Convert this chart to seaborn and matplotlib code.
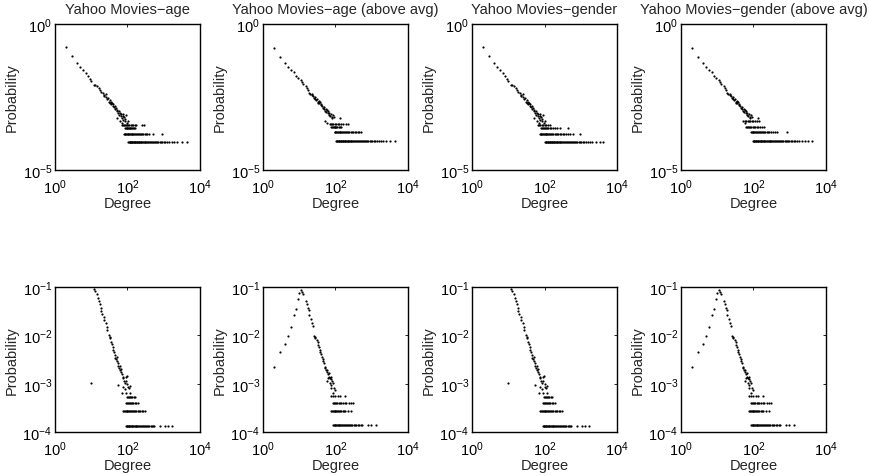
import matplotlib
matplotlib.use("Agg")
import matplotlib.pyplot as plt
import pandas as pd
import seaborn as sns

sns.set_theme(style="white")
plt.rcParams["font.family"] = ["Liberation Sans", "DejaVu Sans"]
plt.rcParams.update({
    "mathtext.fontset": "custom",
    "mathtext.rm": "Liberation Sans",
    "mathtext.it": "Liberation Sans:italic",
    "mathtext.bf": "Liberation Sans:bold",
    "mathtext.default": "regular",
    "font.size": 10.5,
    "axes.edgecolor": "black",
    "axes.linewidth": 1.0,
    "figure.facecolor": "white",
    "axes.facecolor": "white",
})

# ---------------- text ----------------
titles = ["Yahoo Movies\u2212age", "Yahoo Movies\u2212age (above avg)",
          "Yahoo Movies\u2212gender", "Yahoo Movies\u2212gender (above avg)"]
x_label = "Degree"
y_label = "Probability"
xticks = [1e0, 1e2, 1e4]
xtick_labels = [r"$10^{0}$", r"$10^{2}$", r"$10^{4}$"]
top_yticks = [1e-5, 1e0]
top_ytick_labels = [r"$10^{-5}$", r"$10^{0}$"]
bottom_yticks = [1e-4, 1e-3, 1e-2, 1e-1]
bottom_ytick_labels = [r"$10^{-4}$", r"$10^{-3}$", r"$10^{-2}$", r"$10^{-1}$"]

# ---------------- data: top row (age) ----------------
age_head_deg = [2, 3, 4, 5, 6, 7, 8, 9, 10, 12, 13, 14, 16, 17, 19, 21, 22, 23, 25,
                26, 28, 29, 30, 32, 33, 34, 36, 37, 39, 41, 42, 44, 46, 48, 50, 51, 52, 55, 57,
                60, 62, 63, 65, 68, 69, 70, 74, 76, 77, 80, 84, 87, 89, 95, 101]
age_head_prob = [0.159, 0.078, 0.046, 0.0346, 0.0273, 0.0204, 0.0161, 0.0131, 0.0109,
                 0.0084, 0.0079, 0.0075, 0.0064, 0.0053, 0.0047, 0.0042, 0.0038, 0.0034, 0.0032,
                 0.0039, 0.0026, 0.0029, 0.0022, 0.0020, 0.0025, 0.0022, 0.0018, 0.0020, 0.0016,
                 0.0018, 0.0014, 0.0015, 0.00123, 0.00133, 0.00102, 0.00060, 0.00113, 0.00087, 0.00102,
                 0.00079, 0.00092, 0.00049, 0.00071, 0.00081, 0.00042, 0.00060, 0.00069, 0.00083, 0.00053,
                 0.00064, 0.00048, 0.00054, 0.00074, 0.00042, 0.00046]
age_band_levels = [8.9e-5, 1.77e-4, 2.66e-4, 3.6e-4]
age_band1 = [105, 110, 114, 118, 122, 127, 131, 136, 142, 148, 153, 159, 166, 172, 180, 187,
             195, 204, 212, 221, 231, 243, 255, 268, 281, 296, 312, 330, 348, 369, 391, 415,
             441, 470, 502, 537, 575, 617, 664, 716, 773, 837, 910, 990, 1080, 1250, 1400,
             1700, 1900, 2250, 3120, 4470]
age_band2 = [80, 84, 88, 92, 96, 101, 106, 111, 117, 123, 130, 137, 145, 153, 162, 172, 183,
             195, 208, 222, 238, 255, 275, 296, 320, 350, 392, 515, 914]
age_band3 = [86, 90, 95, 100, 104, 109, 114, 120, 126, 133, 140, 150, 160]
age_band4 = [69, 74, 79, 85, 91, 97, 104, 112, 121, 131, 143, 157, 175, 246, 291]

# ---------------- data: top row (age, above avg) ----------------
ageavg_head_deg = [2, 3, 4, 5, 6, 7, 8, 9, 11, 12, 13, 15, 16, 17, 19, 20, 22, 23, 24, 25,
                   27, 28, 29, 30, 32, 33, 34, 36, 38, 39, 41, 43, 45, 47, 49, 51, 52, 53, 56,
                   58, 59, 61, 63, 66, 68, 71, 74, 78, 81, 85, 89, 136]
ageavg_head_prob = [0.147, 0.074, 0.045, 0.033, 0.0273, 0.0221, 0.0170, 0.0142, 0.0121, 0.0100,
                    0.0088, 0.0075, 0.0064, 0.0053, 0.0043, 0.0039, 0.0036, 0.0041, 0.0033, 0.0029,
                    0.0031, 0.0026, 0.0024, 0.0027, 0.0022, 0.0020, 0.0023, 0.0019, 0.0021, 0.0017,
                    0.0018, 0.0015, 0.00133, 0.0012, 0.0014, 0.00108, 0.00046, 0.00123, 0.00097,
                    0.0011, 0.00042, 0.00087, 0.00102, 0.00076, 0.00092, 0.00071, 0.00083, 0.00062,
                    0.00067, 0.00079, 0.00067, 0.00059]
ageavg_band_levels = [9.8e-5, 1.95e-4, 2.93e-4, 3.9e-4]
ageavg_band1 = [105, 109, 113, 118, 123, 128, 133, 139, 145, 151, 158, 165, 172, 180, 188, 197,
                206, 216, 226, 237, 249, 262, 276, 291, 307, 324, 342, 362, 384, 408, 434, 462,
                493, 527, 564, 604, 648, 697, 750, 810, 876, 950, 1030, 1130, 1250, 1400, 1580,
                1780, 2020, 2540, 3120, 4470]
ageavg_band2 = [95, 100, 105, 110, 116, 122, 129, 136, 144, 152, 161, 171, 182, 194, 208, 224,
                242, 262, 285, 310, 340, 375, 410, 450, 515]
ageavg_band3 = [77, 81, 85, 90, 95, 100, 106, 113, 121, 130, 145]
ageavg_band4 = [69, 74, 80, 87, 95, 104, 115, 128, 145, 160, 190, 221]

# ---------------- data: top row (gender) ----------------
gender_band_levels = [8.9e-5, 1.77e-4, 2.66e-4, 3.6e-4]
gender_band1 = [102, 107, 111, 116, 121, 126, 132, 138, 144, 150, 157, 164, 171, 179, 187, 196,
                205, 215, 225, 236, 248, 261, 275, 290, 306, 323, 341, 361, 383, 407, 433, 461,
                492, 526, 563, 603, 647, 696, 750, 810, 877, 952, 1040, 1140, 1260, 1410, 1590,
                1810, 2100, 2600, 3300, 4100]
gender_band2 = [74, 78, 82, 86, 91, 96, 101, 107, 113, 120, 127, 135, 144, 154, 165, 177, 190,
                205, 222, 241, 263, 288, 316, 350, 390, 440, 510, 615, 930]
gender_band3 = [82, 87, 92, 98, 104, 111, 119, 128, 139, 152, 168, 190, 220, 262, 445]
gender_band4 = [66, 71, 77, 84, 92, 101, 112, 125, 140]

# ---------------- data: top row (gender, above avg) ----------------
genderavg_band_levels = [9.8e-5, 1.95e-4, 3.0e-4, 4.9e-4]
genderavg_band1 = [97, 101, 105, 110, 115, 120, 125, 131, 137, 143, 150, 157, 165, 173, 182, 191,
                   201, 212, 223, 235, 248, 262, 277, 293, 310, 328, 348, 370, 393, 418, 445, 475,
                   507, 542, 580, 622, 668, 718, 773, 834, 900, 975, 1060, 1160, 1280, 1430, 1620,
                   1850, 2150, 2600, 3200, 4100]
genderavg_band2 = [86, 90, 95, 100, 105, 111, 117, 124, 131, 139, 148, 158, 169, 181, 195, 211,
                   229, 250, 275, 305, 340, 385, 445, 840]
genderavg_band3 = [64, 68, 72, 77, 82, 88, 95, 103, 112, 123, 137, 155, 175, 192]
genderavg_band4 = [60, 64, 69, 75, 82, 90, 100, 112, 125, 138]

# ---------------- data: bottom row (age / gender) ----------------
low_head_deg = [10, 12, 13, 14, 15, 16, 17, 18, 19, 20, 22, 23, 25, 27, 28, 30, 32, 33, 35, 37,
                39, 41, 42, 44, 46, 48, 50, 52, 54, 56, 58, 61, 64, 66, 68, 72, 75, 77, 80, 84,
                89, 92, 97, 100, 105, 110, 115, 55, 70, 76, 86, 93, 117]
low_head_prob = [0.00106, 0.0924, 0.0828, 0.0707, 0.0594, 0.0516, 0.0440, 0.0376, 0.0321, 0.0283,
                 0.0242, 0.0207, 0.0177, 0.0146, 0.0129, 0.0102, 0.0094, 0.0087, 0.0074, 0.0066,
                 0.0058, 0.0050, 0.0045, 0.0039, 0.0035, 0.0032, 0.0036, 0.0030, 0.0027, 0.0023,
                 0.0021, 0.0023, 0.0019, 0.0018, 0.0020, 0.0016, 0.0014, 0.0013, 0.00117, 0.00103,
                 0.00112, 0.00137, 0.00146, 0.00100, 0.00088, 0.00081, 0.00091, 0.00094, 0.00066,
                 0.00088, 0.00078, 0.00066, 0.00066]
low_band_levels = [1.35e-4, 2.7e-4, 4.05e-4, 5.4e-4]
low_band1 = [90, 94, 98, 103, 108, 113, 118, 124, 130, 137, 144, 151, 159, 168, 177, 187, 198,
             210, 223, 237, 252, 268, 285, 304, 325, 348, 374, 402, 433, 467, 505, 548, 790,
             1080, 1340, 1650]
low_band2 = [77, 81, 85, 90, 95, 100, 106, 112, 119, 126, 134, 143, 153, 164, 176, 190, 206,
             224, 245, 270, 300]
low_band3 = [93, 98, 104, 110, 117, 125, 134, 145, 158, 175, 200]
low_band4 = [97, 103, 110, 118, 127, 137, 150, 165]

# ---------------- data: bottom row (above avg) ----------------
lowavg_head_deg = [2, 3, 4, 5, 6, 7, 8, 9, 10, 11, 12, 13, 15, 16, 17, 18, 19, 21, 22, 24, 25,
                   27, 28, 30, 32, 33, 35, 37, 38, 41, 42, 44, 46, 48, 50, 52, 55, 57, 60, 62,
                   65, 68, 70, 74, 77, 80, 58, 63, 69, 76, 86, 93, 73, 87, 97]
lowavg_head_prob = [0.00227, 0.00461, 0.00664, 0.00969, 0.0146, 0.0262, 0.0353, 0.0575, 0.074,
                    0.0881, 0.0777, 0.0718, 0.0516, 0.0440, 0.0376, 0.0332, 0.0270, 0.0223, 0.0182,
                    0.0155, 0.0098, 0.0094, 0.0087, 0.0080, 0.0074, 0.0063, 0.0057, 0.0050, 0.0046,
                    0.0041, 0.0036, 0.0033, 0.0030, 0.0027, 0.0022, 0.0021, 0.0019, 0.00176, 0.0019,
                    0.0016, 0.0017, 0.0014, 0.0013, 0.0014, 0.00125, 0.00117, 0.00117, 0.0013,
                    0.00103, 0.00095, 0.00103, 0.00081, 0.00081, 0.00066, 0.00075]
lowavg_band_levels = [1.39e-4, 2.74e-4, 4.0e-4, 5.5e-4]
lowavg_band1 = [86, 90, 94, 99, 104, 109, 115, 121, 128, 135, 143, 152, 161, 171, 182, 194, 207,
                221, 237, 254, 273, 294, 318, 345, 376, 410, 450, 495, 545, 790, 975, 1340]
lowavg_band2 = [77, 81, 85, 90, 95, 100, 106, 112, 119, 127, 136, 146, 158, 171, 186, 220, 275]
lowavg_band3 = [86, 92, 98, 105, 113, 122, 133, 145, 160, 178, 200, 230, 265, 305]
lowavg_band4 = [77, 86, 95, 117, 130, 179]


def build(head_deg, head_prob, levels, bands):
    parts = [pd.DataFrame({"Degree": head_deg, "Probability": head_prob})]
    for level, degs in zip(levels, bands):
        parts.append(pd.DataFrame({"Degree": degs, "Probability": level}))
    return pd.concat(parts, ignore_index=True)


top_frames = [
    build(age_head_deg, age_head_prob, age_band_levels,
          [age_band1, age_band2, age_band3, age_band4]),
    build(ageavg_head_deg, ageavg_head_prob, ageavg_band_levels,
          [ageavg_band1, ageavg_band2, ageavg_band3, ageavg_band4]),
    build(age_head_deg, age_head_prob, gender_band_levels,
          [gender_band1, gender_band2, gender_band3, gender_band4]),
    build(ageavg_head_deg, ageavg_head_prob, genderavg_band_levels,
          [genderavg_band1, genderavg_band2, genderavg_band3, genderavg_band4]),
]
low = build(low_head_deg, low_head_prob, low_band_levels,
            [low_band1, low_band2, low_band3, low_band4])
lowavg = build(lowavg_head_deg, lowavg_head_prob, lowavg_band_levels,
               [lowavg_band1, lowavg_band2, lowavg_band3, lowavg_band4])
bottom_frames = [low, lowavg, low, lowavg]

W, H = 870, 477
fig = plt.figure(figsize=(W / 100, H / 100), dpi=100)
lefts = [55, 263, 472, 681]
aw = 145


def style(ax, yticks, ylabels, ylim):
    ax.set_xscale("log")
    ax.set_yscale("log")
    ax.set_xlim(1, 1e4)
    ax.set_ylim(*ylim)
    ax.set_xticks(xticks)
    ax.set_xticklabels(xtick_labels)
    ax.set_yticks(yticks)
    ax.set_yticklabels(ylabels)
    ax.minorticks_off()
    ax.tick_params(which="both", direction="in", top=True, right=True,
                   length=2.2, width=0.6, colors="black", labelsize=10.5)
    ax.tick_params(axis="y", pad=2)
    ax.tick_params(axis="x", pad=5)
    ax.set_xlabel(x_label, fontsize=10.5, labelpad=0)
    ax.set_ylabel(y_label, fontsize=10.5, labelpad=2.5)
    for sp in ax.spines.values():
        sp.set_visible(True)
        sp.set_color("black")
        sp.set_linewidth(1.0)
        sp.set_zorder(5)


for i in range(4):
    ax = fig.add_axes([lefts[i] / W, (H - 171) / H, aw / W, 146 / H])
    sns.scatterplot(data=top_frames[i], x="Degree", y="Probability", ax=ax,
                    color="black", s=2.5, linewidth=0, marker="o", legend=False)
    style(ax, top_yticks, top_ytick_labels, (1e-5, 1))
    ax.set_title(titles[i], fontsize=10.5, pad=8)

    ax2 = fig.add_axes([lefts[i] / W, (H - 433.3) / H, aw / W, 145.3 / H])
    sns.scatterplot(data=bottom_frames[i], x="Degree", y="Probability", ax=ax2,
                    color="black", s=2.5, linewidth=0, marker="o", legend=False)
    style(ax2, bottom_yticks, bottom_ytick_labels, (1e-4, 1e-1))

fig.savefig("out.png", dpi=100, facecolor="white")
